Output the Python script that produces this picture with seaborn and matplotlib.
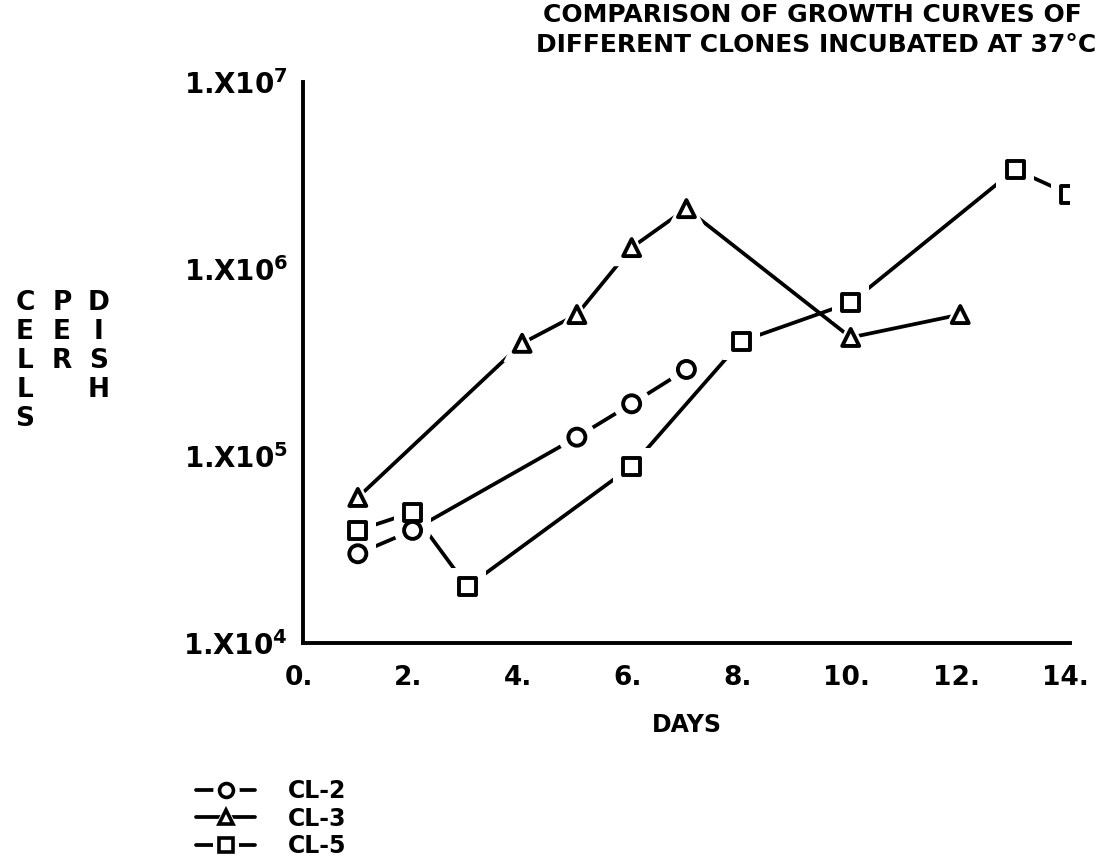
import numpy as np
import pandas as pd
import matplotlib
matplotlib.use("Agg")
import matplotlib.pyplot as plt
import matplotlib.transforms as mtransforms
from matplotlib.lines import Line2D
from matplotlib.ticker import LogLocator, FixedLocator, FuncFormatter, NullFormatter
import seaborn as sns

# Growth data: cells per dish by day of incubation
days_cl2 = [1, 2, 5, 6, 7]
cells_cl2 = [3.0e4, 4.0e4, 1.26e5, 1.9e5, 2.9e5]

days_cl3 = [1, 4, 5, 6, 7, 10, 12]
cells_cl3 = [6.0e4, 4.0e5, 5.7e5, 1.3e6, 2.1e6, 4.3e5, 5.7e5]

days_cl5 = [1, 2, 3, 6, 8, 10, 13, 14]
cells_cl5 = [4.0e4, 5.0e4, 2.0e4, 8.8e4, 4.1e5, 6.6e5, 3.4e6, 2.5e6]

clones = ["CL-2", "CL-3", "CL-5"]
x_ticks = [0, 2, 4, 6, 8, 10, 12, 14]
x_tick_labels = ["0.", "2.", "4.", "6.", "8.", "10.", "12.", "14."]
y_decades = [4, 5, 6, 7]

title_lines = ["COMPARISON OF GROWTH CURVES OF",
               "DIFFERENT CLONES INCUBATED AT 37°C"]
ylabel_columns = ["CELLS", "PER", "DISH"]

df = pd.concat([
    pd.DataFrame({"day": days_cl2, "cells": cells_cl2, "clone": "CL-2"}),
    pd.DataFrame({"day": days_cl3, "cells": cells_cl3, "clone": "CL-3"}),
    pd.DataFrame({"day": days_cl5, "cells": cells_cl5, "clone": "CL-5"}),
], ignore_index=True)

sns.set_style("white")
plt.rcParams["font.family"] = ["DejaVu Sans"]
plt.rcParams["font.weight"] = "bold"
plt.rcParams["mathtext.default"] = "bf"
for key in ["text.color", "axes.labelcolor", "xtick.color", "ytick.color"]:
    plt.rcParams[key] = "black"

marker_map = {"CL-2": "o", "CL-3": "^", "CL-5": "s"}
black_pal = {c: "black" for c in clones}

fig = plt.figure(figsize=(11.04, 8.66), dpi=100)
ax = fig.add_axes([0.2745, 0.2575, 0.6945, 0.648])

# connecting lines
sns.lineplot(data=df, x="day", y="cells", hue="clone", palette=black_pal,
             units="clone", estimator=None, sort=True, linewidth=2.7,
             legend=False, ax=ax)
n_before = len(ax.collections)
# white halo that opens a gap in each line around its marker
sns.scatterplot(data=df, x="day", y="cells", style="clone", markers=marker_map,
                color="white", s=720, linewidth=0, legend=False, ax=ax)
halo = ax.collections[n_before]
halo.set_facecolor("white")
halo.set_edgecolor("white")
halo.set_zorder(5)
# open markers
sns.scatterplot(data=df, x="day", y="cells", style="clone", markers=marker_map,
                facecolor="white", edgecolor="black", s=150, linewidth=2.8,
                legend=False, ax=ax)
ax.collections[-1].set_zorder(6)
for ln in ax.lines:
    ln.set_zorder(4)

ax.set_yscale("log")
ax.set_xlim(0, 14)
ax.set_ylim(1e4, 1e7)

for side in ["top", "right"]:
    ax.spines[side].set_visible(False)
for side in ["left", "bottom"]:
    ax.spines[side].set_linewidth(2.8)
    ax.spines[side].set_color("black")

ax.xaxis.set_major_locator(FixedLocator(x_ticks))
ax.xaxis.set_minor_locator(FixedLocator(range(0, 15)))
ax.set_xticklabels(x_tick_labels)
ax.yaxis.set_major_locator(FixedLocator([10.0 ** d for d in y_decades]))
ax.yaxis.set_minor_locator(LogLocator(base=10, subs=np.arange(2, 10)))
ax.yaxis.set_major_formatter(FuncFormatter(lambda v, p: r"1.X10$^{%d}$" % round(np.log10(v))))
ax.yaxis.set_minor_formatter(NullFormatter())

ax.tick_params(axis="x", which="major", direction="inout", length=13, width=2.6,
               labelsize=19, pad=9)
ax.tick_params(axis="x", which="minor", direction="inout", length=8, width=2.6)
ax.tick_params(axis="y", which="major", direction="inout", length=10, width=2.6,
               labelsize=20, pad=6)
ax.tick_params(axis="y", which="minor", direction="in", length=6, width=2.2)
# nudge day labels so the digits sit over their ticks
shift = mtransforms.ScaledTranslation(-4 / 100, 0, fig.dpi_scale_trans)
for lbl in ax.get_xticklabels():
    lbl.set_transform(lbl.get_transform() + shift)
for lbl in ax.get_xticklabels() + ax.get_yticklabels():
    lbl.set_fontweight("bold")

ax.set_xlabel("DAYS", fontsize=17, fontweight="bold", labelpad=16)
ax.set_ylabel("")

# title, two lines
fig.text(1082 / 1104, 1 - 15 / 866, title_lines[0], ha="right", va="center",
         fontsize=18, fontweight="bold")
fig.text(1096 / 1104, 1 - 45 / 866, title_lines[1], ha="right", va="center",
         fontsize=18, fontweight="bold")

# stacked vertical axis label
col_x = [25, 62, 99]
for cx, word in zip(col_x, ylabel_columns):
    for i, ch in enumerate(word):
        fig.text(cx / 1104, 1 - (303 + 29 * i) / 866, ch, ha="center", va="center",
                 fontsize=19, fontweight="bold")

# legend: line, white gap and open marker overlaid for each clone
handles = []
for c in clones:
    seg = Line2D([], [], color="black", linewidth=2.7)
    gap = Line2D([], [], linestyle="none", marker=marker_map[c], markersize=19,
                 markerfacecolor="white", markeredgecolor="white", markeredgewidth=0)
    mk = Line2D([], [], linestyle="none", marker=marker_map[c], markersize=10,
                markerfacecolor="white", markeredgecolor="black", markeredgewidth=2.6)
    handles.append((seg, gap, mk))
leg = fig.legend(handles, clones, loc="upper left",
                 bbox_to_anchor=(196 / 1104, 1 - 779 / 866), frameon=False,
                 fontsize=17, handlelength=2.5, labelspacing=0.15,
                 handletextpad=1.4, borderpad=0, borderaxespad=0)
for t in leg.get_texts():
    t.set_fontweight("bold")

fig.savefig("out.png", dpi=100, facecolor="white")
